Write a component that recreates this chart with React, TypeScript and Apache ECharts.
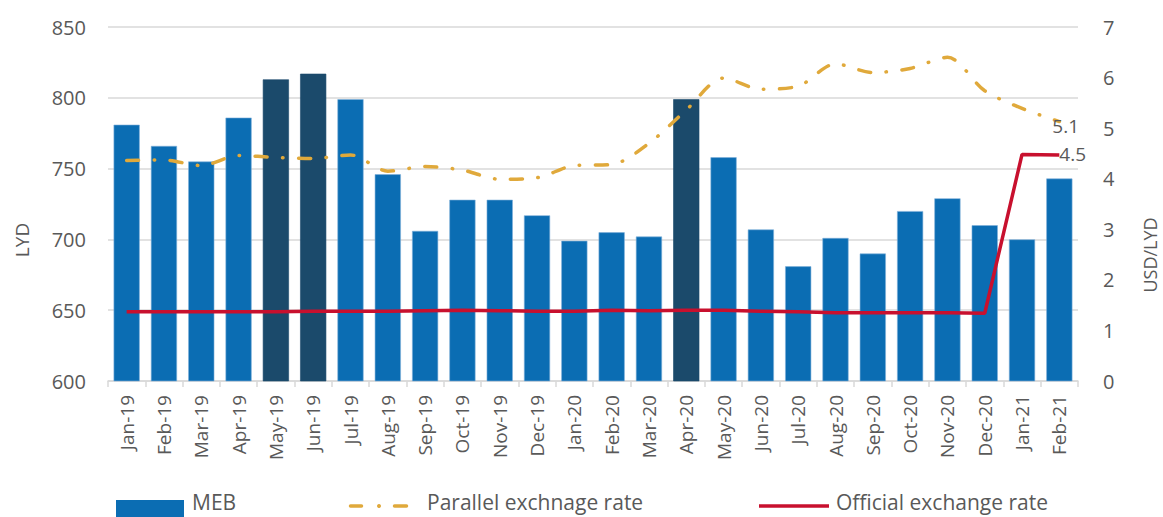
import React, { useEffect, useRef } from "react";
import * as echarts from "echarts";

const categories = [
  "Jan-19", "Feb-19", "Mar-19", "Apr-19", "May-19", "Jun-19", "Jul-19", "Aug-19", "Sep-19", "Oct-19", "Nov-19", "Dec-19",
  "Jan-20", "Feb-20", "Mar-20", "Apr-20", "May-20", "Jun-20", "Jul-20", "Aug-20", "Sep-20", "Oct-20", "Nov-20", "Dec-20",
  "Jan-21", "Feb-21",
];
const meb = [781, 766, 755, 786, 813, 817, 799, 746, 706, 728, 728, 717, 699, 705, 702, 799, 758, 707, 681, 701, 690, 720, 729, 710, 700, 743];
const highlighted = ["May-19", "Jun-19", "Apr-20"];
const parallelRate = [4.36, 4.37, 4.26, 4.46, 4.42, 4.40, 4.47, 4.15, 4.24, 4.17, 3.99, 4.02, 4.26, 4.28, 4.70, 5.36, 5.99, 5.77, 5.83, 6.27, 6.10, 6.18, 6.40, 5.74, 5.39, 5.13];
const officialRate = [1.37, 1.37, 1.37, 1.37, 1.37, 1.38, 1.38, 1.38, 1.39, 1.40, 1.39, 1.38, 1.38, 1.40, 1.39, 1.40, 1.40, 1.38, 1.37, 1.35, 1.35, 1.35, 1.35, 1.34, 4.48, 4.47];
const seriesNames = ["MEB", "Parallel exchnage rate", "Official exchange rate"];
const endLabels = ["5.1", "4.5"];
const leftTicks = { min: 600, max: 850, interval: 50 };
const rightTicks = { min: 0, max: 7, interval: 1 };

const FONT = "'Open Sans', 'Noto Sans', sans-serif";
const GREY = "#595959";
const BLUE = "#0b6db3";
const DARK = "#1b4a6b";
const GOLD = "#e0a93b";
const RED = "#c8102e";

export default function App() {
  const ref = useRef<HTMLDivElement>(null);
  useEffect(() => {
    const chart = echarts.init(ref.current!, null, { renderer: "svg" });
    const legendY = 506;
    const txt = (text: string, x: number) => ({
      type: "text", x, y: 502,
      style: { text, fontSize: 21, lineHeight: 20, fontFamily: FONT, fill: GREY, textAlign: "left", textVerticalAlign: "middle" },
    });
    chart.setOption({
      animation: false,
      textStyle: { fontFamily: FONT, color: GREY },
      grid: { left: 108, right: 85, top: 27, bottom: 136 },
      xAxis: {
        type: "category",
        data: categories,
        boundaryGap: true,
        axisLine: { lineStyle: { color: "#d9d9d9", width: 1.5 } },
        axisTick: { show: true, length: 6, lineStyle: { color: "#d9d9d9", width: 1.5 } },
        axisLabel: { rotate: 90, fontSize: 19, color: GREY, fontFamily: FONT, margin: 14, interval: 0 },
      },
      yAxis: [
        {
          type: "value",
          ...leftTicks,
          axisLine: { show: false },
          axisTick: { show: false },
          splitLine: { lineStyle: { color: "#d9d9d9", width: 1.5 } },
          axisLabel: { fontSize: 20, color: GREY, fontFamily: FONT, margin: 22 },
        },
        {
          type: "value",
          ...rightTicks,
          axisLine: { show: false },
          axisTick: { show: false },
          splitLine: { show: false },
          axisLabel: { fontSize: 20, color: GREY, fontFamily: FONT, margin: 25 },
        },
      ],
      graphic: [
        {
          type: "text", x: 22, y: 240, rotation: Math.PI / 2,
          style: { text: "LYD", fontSize: 19, fontFamily: FONT, fill: GREY, textAlign: "center", textVerticalAlign: "middle" },
        },
        {
          type: "text", x: 1150, y: 255, rotation: Math.PI / 2,
          style: { text: "USD/LYD", fontSize: 18, fontFamily: FONT, fill: GREY, textAlign: "center", textVerticalAlign: "middle" },
        },
        { type: "rect", shape: { x: 116, y: 500, width: 68, height: 17 }, style: { fill: BLUE } },
        txt(seriesNames[0], 192),
        { type: "line", shape: { x1: 350.5, y1: legendY, x2: 361.5, y2: legendY }, style: { stroke: GOLD, lineWidth: 3.5, lineCap: "round" } },
        { type: "circle", shape: { cx: 379, cy: legendY, r: 2 }, style: { fill: GOLD } },
        { type: "line", shape: { x1: 394.5, y1: legendY, x2: 406.5, y2: legendY }, style: { stroke: GOLD, lineWidth: 3.5, lineCap: "round" } },
        txt(seriesNames[1], 427),
        { type: "line", shape: { x1: 759, y1: legendY, x2: 829, y2: legendY }, style: { stroke: RED, lineWidth: 3.5 } },
        txt(seriesNames[2], 836),
      ],
      series: [
        {
          name: seriesNames[0],
          type: "bar",
          yAxisIndex: 0,
          barCategoryGap: "30%",
          itemStyle: { color: BLUE, borderColor: "#7fb0da", borderWidth: 0.6 },
          data: meb.map((v, i) => ({
            value: v,
            itemStyle: highlighted.includes(categories[i]) ? { color: DARK, borderColor: DARK } : undefined,
          })),
        },
        {
          name: seriesNames[1],
          type: "line",
          yAxisIndex: 1,
          smooth: 0.3,
          symbol: "none",
          itemStyle: { color: GOLD },
          lineStyle: { color: GOLD, width: 3.5, type: [12, 15.5, 0.5, 15.5], cap: "round" },
          endLabel: { show: true, formatter: endLabels[0], distance: 0, offset: [-7, 4], fontSize: 19, color: GREY, fontFamily: FONT },
          data: parallelRate,
        },
        {
          name: seriesNames[2],
          type: "line",
          yAxisIndex: 1,
          symbol: "none",
          itemStyle: { color: RED },
          lineStyle: { color: RED, width: 3.5 },
          endLabel: { show: true, formatter: endLabels[1], distance: 0, offset: [0, -1], fontSize: 19, color: GREY, fontFamily: FONT },
          data: officialRate,
        },
      ],
    });
    return () => chart.dispose();
  }, []);
  return <div ref={ref} style={{ width: 1163, height: 517, position: "absolute", left: 0, top: 0 }} />;
}
